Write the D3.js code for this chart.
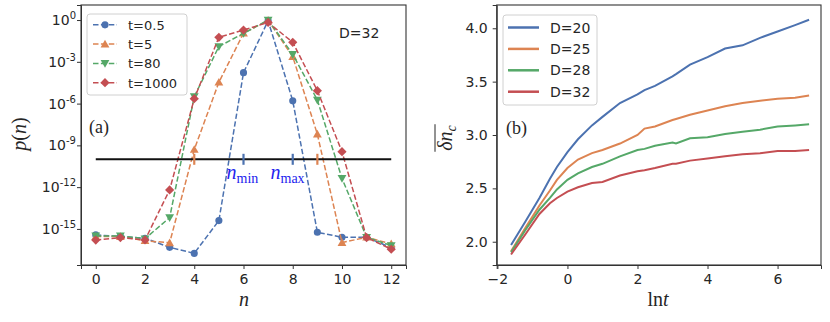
<!DOCTYPE html>
<meta charset="utf-8">
<style>
    body { margin: 0; background: white; }
    text { font-family: "DejaVu Sans", sans-serif; fill: #262626; }
    .serif { font-family: "Liberation Serif", serif; }
    .axis path, .axis line { stroke: #333; }
</style>
<svg width="830" height="322"></svg>
<script src="https://d3js.org/d3.v7.min.js"></script>
<script>

// ---- panel (a): p(n) on a log axis, stored as log10 values
var nVals = [0, 1, 2, 3, 4, 5, 6, 7, 8, 9, 10, 11, 12];
var logP05   = [-15.43, -15.55, -15.67, -16.32, -16.75, -14.4, -3.78, -0.05, -5.8, -15.24, -15.6, -15.6, -16.35];
var logP5    = [-15.55, -15.55, -15.84, -16.0, -9.3, -4.47, -0.95, -0.02, -2.63, -8.2, -15.98, -15.6, -16.08];
var logP80   = [-15.5, -15.5, -15.7, -14.19, -5.5, -1.9, -0.96, 0, -2.46, -5.74, -11.37, -15.6, -16.2];
var logP1000 = [-15.8, -15.62, -15.79, -12.2, -5.65, -1.24, -0.72, -0.17, -1.6, -5.07, -9.45, -15.62, -16.46];
var tLabels = ["t=0.5", "t=5", "t=80", "t=1000"];
var cutoff = 1e-10;
var blueTicks = [6, 8];      // n_min, n_max
var orangeTicks = [4, 9];
var xTicksA = [0, 2, 4, 6, 8, 10, 12];
var yExpA = [0, -3, -6, -9, -12, -15];

// ---- panel (b): mean delta n_c vs ln t
var lnT = [-1.61, -1.2, -0.8, -0.5, -0.3, 0, 0.3, 0.7, 1.0, 1.5, 2.0, 2.2, 2.5, 3.0, 3.1, 3.5, 4.0, 4.5, 5.0, 5.5, 6.0, 6.5, 6.9];
var d20 = [1.97, 2.19, 2.41, 2.59, 2.70, 2.84, 2.96, 3.09, 3.17, 3.30, 3.38, 3.42, 3.46, 3.55, 3.57, 3.66, 3.73, 3.81, 3.84, 3.91, 3.97, 4.03, 4.08];
var d25 = [1.91, 2.13, 2.34, 2.48, 2.58, 2.69, 2.77, 2.83, 2.86, 2.92, 3.00, 3.06, 3.08, 3.14, 3.15, 3.19, 3.23, 3.27, 3.30, 3.32, 3.34, 3.35, 3.37];
var d28 = [1.90, 2.11, 2.30, 2.41, 2.49, 2.58, 2.64, 2.70, 2.73, 2.80, 2.86, 2.87, 2.90, 2.93, 2.92, 2.97, 2.98, 3.01, 3.03, 3.05, 3.08, 3.09, 3.10];
var d32 = [1.88, 2.07, 2.26, 2.36, 2.41, 2.47, 2.51, 2.55, 2.56, 2.62, 2.66, 2.67, 2.69, 2.73, 2.73, 2.76, 2.78, 2.80, 2.82, 2.83, 2.85, 2.85, 2.86];
var dLabels = ["D=20", "D=25", "D=28", "D=32"];
var xTicksB = [-2, 0, 2, 4, 6];
var yTicksB = [2.0, 2.5, 3.0, 3.5, 4.0];

var colors = ["#4c72b0", "#dd8452", "#55a868", "#c44e52"];
var markers = [d3.symbolCircle, "up", "down", "diamond"];

var svg = d3.select("svg");

// ================= panel (a) =================
var xa = d3.scaleLinear().domain([-0.6, 12.6]).range([81, 406]);
var ya = d3.scaleLog().domain([Math.pow(10, 1.08), Math.pow(10, -17.59)]).range([5, 265]);

var ga = svg.append("g");

ga.append("g")
    .attr("class", "axis")
    .attr("transform", "translate(0,265)")
    .call(d3.axisBottom(xa).tickValues(xTicksA).tickSize(4).tickPadding(5))
    .call(g => g.selectAll("text").style("font-size", "14px").attr("fill", "#262626"));

ga.append("g")
    .attr("class", "axis")
    .attr("transform", "translate(81,0)")
    .call(d3.axisLeft(ya).tickValues(yExpA.map(e => Math.pow(10, e))).tickSize(4).tickFormat(""));

yExpA.forEach(function(e) {
    var t = ga.append("text")
        .attr("x", 76)
        .attr("y", ya(Math.pow(10, e)) + 5)
        .attr("text-anchor", "end")
        .style("font-size", "14px");
    t.append("tspan").text("10");
    t.append("tspan").attr("dy", -6).style("font-size", "10px").text(e === 0 ? "0" : "-" + (-e));
});

// box
ga.append("rect").attr("x", 81).attr("y", 5).attr("width", 325).attr("height", 260)
    .attr("fill", "none").attr("stroke", "#333").attr("stroke-width", 1.1);

function markerPath(type, size) {
    if (type === "up") return "M0," + (-size) + "L" + size + "," + (size * 0.75) + "L" + (-size) + "," + (size * 0.75) + "Z";
    if (type === "down") return "M0," + size + "L" + size + "," + (-size * 0.75) + "L" + (-size) + "," + (-size * 0.75) + "Z";
    if (type === "diamond") return "M0," + (-size) + "L" + size + ",0L0," + size + "L" + (-size) + ",0Z";
    return d3.symbol().type(d3.symbolCircle).size(size * size * 3.1)();
}
var markerSize = [3.6, 4.4, 4.4, 4.6];

var seriesA = [logP05, logP5, logP80, logP1000];
var lineA = d3.line()
    .x(function(d, i) { return xa(nVals[i]); })
    .y(function(d) { return ya(Math.pow(10, d)); });

svg.append("clipPath").attr("id", "clipA")
    .append("rect").attr("x", 81).attr("y", 5).attr("width", 325).attr("height", 260);

seriesA.forEach(function(s, k) {
    var g = ga.append("g").attr("clip-path", "url(#clipA)");
    g.append("path")
        .attr("d", lineA(s))
        .attr("fill", "none")
        .attr("stroke", colors[k])
        .attr("stroke-width", 1.5)
        .attr("stroke-dasharray", "5.5,2.4");
    g.selectAll(".m")
        .data(s)
        .enter().append("path")
        .attr("transform", function(d, i) { return "translate(" + xa(nVals[i]) + "," + ya(Math.pow(10, d)) + ")"; })
        .attr("d", markerPath(markers[k], markerSize[k]))
        .attr("fill", colors[k]);
});

// cutoff line with n_min / n_max ticks
ga.append("line")
    .attr("x1", xa(0)).attr("x2", xa(12))
    .attr("y1", ya(cutoff)).attr("y2", ya(cutoff))
    .attr("stroke", "#111").attr("stroke-width", 2);
blueTicks.forEach(function(n) {
    ga.append("line").attr("x1", xa(n)).attr("x2", xa(n))
        .attr("y1", ya(cutoff) - 5.5).attr("y2", ya(cutoff) + 5.5)
        .attr("stroke", colors[0]).attr("stroke-width", 2.2);
});
orangeTicks.forEach(function(n) {
    ga.append("line").attr("x1", xa(n)).attr("x2", xa(n))
        .attr("y1", ya(cutoff) - 5.5).attr("y2", ya(cutoff) + 5.5)
        .attr("stroke", colors[1]).attr("stroke-width", 2.2);
});

function subLabel(x, y, main, sub) {
    var t = ga.append("text").attr("class", "serif").attr("x", x).attr("y", y)
        .style("font-size", "20px").style("fill", "#2222ee");
    t.append("tspan").style("font-style", "italic").text(main);
    t.append("tspan").attr("dy", 4).style("font-size", "14px").text(sub);
}
subLabel(226.5, 179, "n", "min");
subLabel(270.5, 179, "n", "max");

// legend (a)
var lgA = ga.append("g");
lgA.append("rect").attr("x", 87).attr("y", 14).attr("width", 100).attr("height", 81).attr("rx", 3)
    .attr("fill", "white").attr("fill-opacity", 0.85).attr("stroke", "#d0d0d0");
tLabels.forEach(function(lab, k) {
    var y = 24.8 + k * 19.3;
    lgA.append("line").attr("x1", 93).attr("x2", 117).attr("y1", y).attr("y2", y)
        .attr("stroke", colors[k]).attr("stroke-width", 1.5).attr("stroke-dasharray", "5.5,2.4");
    lgA.append("path").attr("transform", "translate(105," + y + ")")
        .attr("d", markerPath(markers[k], markerSize[k])).attr("fill", colors[k]);
    lgA.append("text").attr("x", 128).attr("y", y + 5).style("font-size", "13px").text(lab);
});

ga.append("text").attr("x", 339).attr("y", 38).style("font-size", "14px").text("D=32");
ga.append("text").attr("class", "serif").attr("x", 89).attr("y", 133).style("font-size", "18px").text("(a)");

ga.append("text").attr("class", "serif").attr("x", 244).attr("y", 306)
    .attr("text-anchor", "middle").style("font-size", "20px").style("font-style", "italic").text("n");

var pl = ga.append("text").attr("class", "serif")
    .attr("transform", "translate(26,134) rotate(-90)")
    .attr("text-anchor", "middle").style("font-size", "20px");
pl.append("tspan").style("font-style", "italic").text("p");
pl.append("tspan").text("(");
pl.append("tspan").style("font-style", "italic").text("n");
pl.append("tspan").text(")");

// ================= panel (b) =================
var xb = d3.scaleLinear().domain([-2.02, 7.24]).range([496.7, 821]);
var yb = d3.scaleLinear().domain([1.782, 4.218]).range([265, 5]);

var gb = svg.append("g");

gb.append("g")
    .attr("class", "axis")
    .attr("transform", "translate(0,265)")
    .call(d3.axisBottom(xb).tickValues(xTicksB).tickSize(4).tickPadding(5).tickFormat(d3.format("d")))
    .call(g => g.selectAll("text").style("font-size", "14px").attr("fill", "#262626"));

gb.append("g")
    .attr("class", "axis")
    .attr("transform", "translate(496.7,0)")
    .call(d3.axisLeft(yb).tickValues(yTicksB).tickSize(4).tickPadding(5).tickFormat(d3.format(".1f")))
    .call(g => g.selectAll("text").style("font-size", "14px").attr("fill", "#262626"));

gb.append("rect").attr("x", 496.7).attr("y", 5).attr("width", 324.3).attr("height", 260)
    .attr("fill", "none").attr("stroke", "#333").attr("stroke-width", 1.1);

var seriesB = [d20, d25, d28, d32];
var lineB = d3.line()
    .x(function(d, i) { return xb(lnT[i]); })
    .y(function(d) { return yb(d); });

seriesB.forEach(function(s, k) {
    gb.append("path")
        .attr("d", lineB(s))
        .attr("fill", "none")
        .attr("stroke", colors[k])
        .attr("stroke-width", 2);
});

var lgB = gb.append("g");
lgB.append("rect").attr("x", 503).attr("y", 15).attr("width", 94).attr("height", 90).attr("rx", 3)
    .attr("fill", "white").attr("fill-opacity", 0.85).attr("stroke", "#d0d0d0");
dLabels.forEach(function(lab, k) {
    var y = 27.5 + k * 21.4;
    lgB.append("line").attr("x1", 508).attr("x2", 539).attr("y1", y).attr("y2", y)
        .attr("stroke", colors[k]).attr("stroke-width", 2.5);
    lgB.append("text").attr("x", 550).attr("y", y + 5).style("font-size", "14px").text(lab);
});

gb.append("text").attr("class", "serif").attr("x", 506).attr("y", 134).style("font-size", "18px").text("(b)");

var xl = gb.append("text").attr("class", "serif").attr("x", 658).attr("y", 306)
    .attr("text-anchor", "middle").style("font-size", "20px");
xl.append("tspan").text("ln");
xl.append("tspan").style("font-style", "italic").text("t");

var ylB = gb.append("g").attr("transform", "translate(452,138) rotate(-90)");
var ylt = ylB.append("text").attr("class", "serif").attr("text-anchor", "middle").style("font-size", "20px");
ylt.append("tspan").style("font-style", "italic").text("δn");
ylt.append("tspan").attr("dy", 4).style("font-size", "14px").style("font-style", "italic").text("c");
var w = ylt.node().getComputedTextLength();
ylB.append("line").attr("x1", -w / 2 - 1).attr("x2", w / 2 + 1).attr("y1", -17).attr("y2", -17)
    .attr("stroke", "#262626").attr("stroke-width", 1);

</script>
